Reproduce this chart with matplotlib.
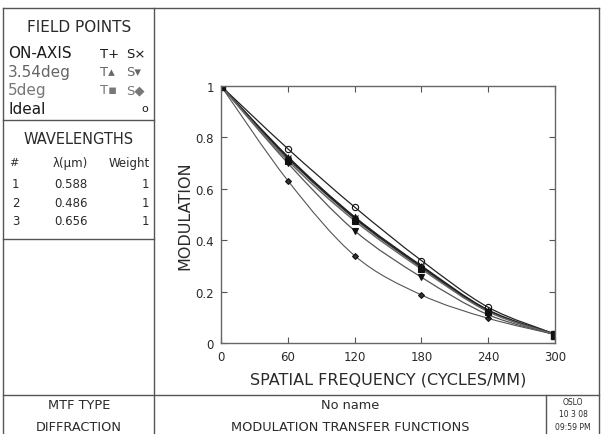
import numpy as np
import matplotlib
matplotlib.use('Agg')
import matplotlib.pyplot as plt
from matplotlib.lines import Line2D
from matplotlib.path import Path
from matplotlib.patches import PathPatch

# data (OSLO MTF plot)
freq = [0, 60, 120, 180, 240, 300]
mtf_t_onaxis = [1.0, 0.725, 0.490, 0.300, 0.128, 0.033]
mtf_s_onaxis = [1.0, 0.720, 0.485, 0.295, 0.126, 0.033]
mtf_t_354 = [1.0, 0.720, 0.490, 0.295, 0.125, 0.033]
mtf_s_354 = [1.0, 0.700, 0.437, 0.256, 0.110, 0.033]
mtf_t_5 = [1.0, 0.710, 0.476, 0.288, 0.122, 0.033]
mtf_s_5 = [1.0, 0.632, 0.340, 0.187, 0.096, 0.033]
mtf_ideal = [1.0, 0.756, 0.529, 0.321, 0.139, 0.035]

wl_num = ['1', '2', '3']
wl_val = ['0.588', '0.486', '0.656']
wl_weight = ['1', '1', '1']

W, H = 601, 435
fig = plt.figure(figsize=(W / 100, H / 100), dpi=100)
plt.rcParams['font.family'] = ['DejaVu Sans']


def fx(px):
    return px / W


def fy(py):
    return 1 - py / H


def hline(y, x0, x1, c='#555555', lw=1.0):
    fig.add_artist(Line2D([fx(x0), fx(x1)], [fy(y), fy(y)], color=c, lw=lw))


def vline(x, y0, y1, c='#555555', lw=1.0):
    fig.add_artist(Line2D([fx(x), fx(x)], [fy(y0), fy(y1)], color=c, lw=lw))


def ftext(x, y, s, size=10, ha='left', color='#2a2a2a', **kw):
    fig.text(fx(x), fy(y), s, fontsize=size, ha=ha, va='center', color=color, **kw)


# frame
hline(9, 3, 599)
hline(396, 3, 599)
vline(3, 9, 435)
vline(154, 9, 435)
vline(599, 9, 435)
vline(546, 396, 435)
hline(121, 3, 154)
hline(240, 3, 154)

# field points box
ftext(79, 27, 'FIELD POINTS', size=11, ha='center')
rows = [('ON-AXIS', 'T+', 'S×', '#1a1a1a'),
        ('3.54deg', 'T▴', 'S▾', '#666666'),
        ('5deg', 'T▪', 'S◆', '#777777')]
for i, (lab, t, s, c) in enumerate(rows):
    y = 54 + i * 18.5
    ftext(8, y, lab, size=11, color=c)
    ftext(100, y, t, size=9.5, color=c)
    ftext(126, y, s, size=9.5, color=c)
ftext(8, 109, 'Ideal', size=11, color='#1a1a1a')
ftext(148, 109, 'o', size=8, ha='right', color='#1a1a1a')

# wavelengths box
ftext(79, 140, 'WAVELENGTHS', size=10.5, ha='center')
ftext(9, 163, '#', size=8)
ftext(70, 163, 'λ(μm)', size=8.5, ha='center')
ftext(150, 163, 'Weight', size=8.5, ha='right')
for i in range(3):
    y = 185 + i * 18.5
    ftext(12, y, wl_num[i], size=8.5)
    ftext(54, y, wl_val[i], size=8.5)
    ftext(149, y, wl_weight[i], size=8.5, ha='right')

# bottom title block
ftext(79, 406, 'MTF TYPE', size=9.3, ha='center')
ftext(79, 428, 'DIFFRACTION', size=9.3, ha='center')
ftext(350, 406, 'No name', size=9.3, ha='center')
ftext(350, 428, 'MODULATION TRANSFER FUNCTIONS', size=9.3, ha='center')
ftext(573, 403, 'OSLO', size=5.5, ha='center')
ftext(573, 415, '10 3 08', size=5.5, ha='center')
ftext(573, 428, '09:59 PM', size=5.5, ha='center')

# plot area
ax = fig.add_axes([fx(221), fy(344), fx(555) - fx(221), fy(87) - fy(344)])
ax.set_xlim(0, 300)
ax.set_ylim(0, 1)


def smooth_path(x, y):
    # cubic bezier through the points (catmull-rom tangents)
    x = np.asarray(x, float)
    y = np.asarray(y, float)
    n = len(x)
    verts = [(x[0], y[0])]
    codes = [Path.MOVETO]
    for i in range(n - 1):
        p0 = np.array([x[max(i - 1, 0)], y[max(i - 1, 0)]])
        p1 = np.array([x[i], y[i]])
        p2 = np.array([x[i + 1], y[i + 1]])
        p3 = np.array([x[min(i + 2, n - 1)], y[min(i + 2, n - 1)]])
        c1 = p1 + (p2 - p0) / 6
        c2 = p2 - (p3 - p1) / 6
        verts += [tuple(c1), tuple(c2), tuple(p2)]
        codes += [Path.CURVE4] * 3
    return Path(verts, codes)


series = [
    (mtf_ideal, 'o', '#222222', 'none', 4.5, 0.9),
    (mtf_s_5, 'D', '#555555', '#333333', 3.0, 0.8),
    (mtf_s_354, 'v', '#555555', '#111111', 4.0, 0.9),
    (mtf_t_354, '^', '#666666', '#111111', 4.0, 1.1),
    (mtf_s_onaxis, 'x', '#333333', '#111111', 4.0, 1.2),
    (mtf_t_onaxis, '+', '#222222', '#111111', 4.5, 1.2),
    (mtf_t_5, 's', '#666666', '#111111', 4.0, 1.1),
]
for vals, mk, lc, fc, ms, lw in series:
    ax.add_patch(PathPatch(smooth_path(freq, vals), fill=False, edgecolor=lc, lw=lw))
    ax.plot(freq[1:], vals[1:], ls='none', marker=mk, ms=ms, mfc=fc,
            mec='#111111', mew=0.8)
ax.plot([0, 300], [1.0, mtf_t_5[-1]], ls='none', marker='s', ms=6, color='#111111')

ax.set_xticks(freq)
ax.set_yticks([0, 0.2, 0.4, 0.6, 0.8, 1.0])
ax.set_yticklabels(['0', '0.2', '0.4', '0.6', '0.8', '1'])
ax.tick_params(direction='in', length=4, width=0.8, color='#555555',
               labelsize=8.5, labelcolor='#2a2a2a', top=True, right=True, pad=5)
for sp in ax.spines.values():
    sp.set_color('#666666')
    sp.set_linewidth(1.0)
ax.set_xlabel('SPATIAL FREQUENCY (CYCLES/MM)', fontsize=11.5, color='#2a2a2a', labelpad=6)
ax.set_ylabel('MODULATION', fontsize=11.5, color='#2a2a2a', labelpad=2)

fig.savefig('out.png', dpi=100)
